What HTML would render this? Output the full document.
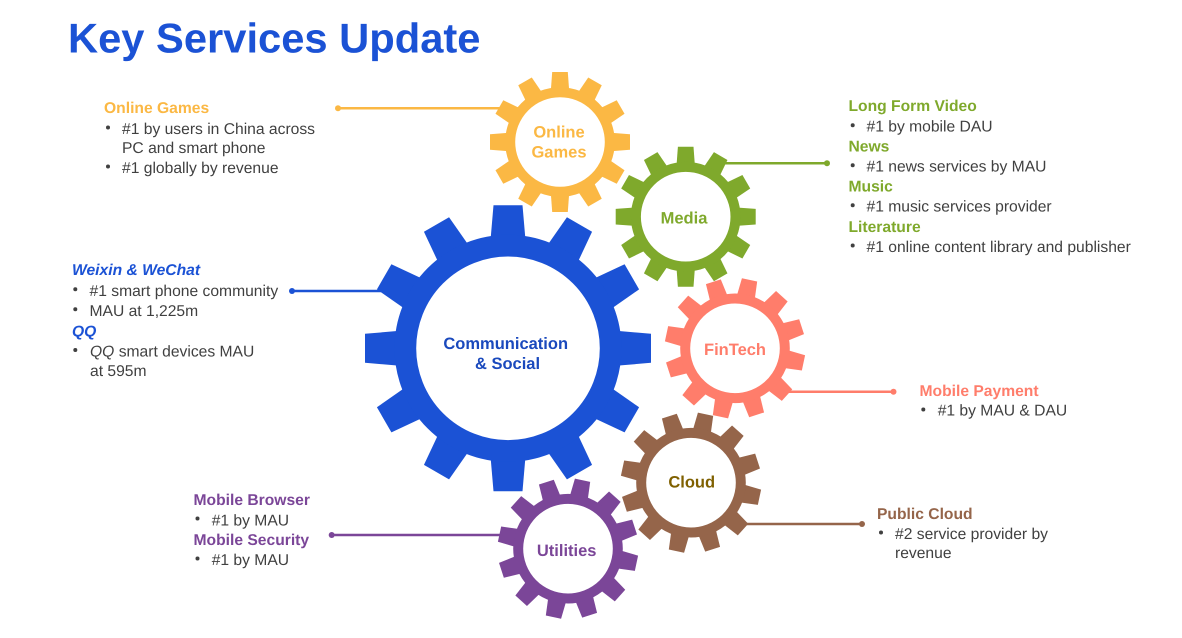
<!DOCTYPE html>
<html lang="en">
<head>
<meta charset="utf-8">
<title>Key Services Update</title>
<style>
html,body{margin:0;padding:0;background:#fff;width:1182px;height:638px;overflow:hidden}
svg{display:block}
text{font-family:"Liberation Sans",Arial,sans-serif;text-rendering:geometricPrecision}
.b{font-size:15.65px;fill:#404040}
.h{font-size:15.65px;font-weight:bold}
.g{font-size:16.5px;font-weight:bold;text-anchor:middle}
</style>
</head>
<body>
<svg width="1182" height="638" viewBox="0 0 1182 638" xmlns="http://www.w3.org/2000/svg">
<defs>
<path id="tl" d="M-17.5,-108 L-14.5,-143 L14.5,-143 L17.5,-108 Z"/>
<path id="ts" d="M-9.2,-51 L-7.8,-70 L7.8,-70 L9.2,-51 Z"/>
<g id="bigteeth">
<use href="#tl"/><use href="#tl" transform="rotate(30)"/><use href="#tl" transform="rotate(60)"/><use href="#tl" transform="rotate(90)"/><use href="#tl" transform="rotate(120)"/><use href="#tl" transform="rotate(150)"/><use href="#tl" transform="rotate(180)"/><use href="#tl" transform="rotate(210)"/><use href="#tl" transform="rotate(240)"/><use href="#tl" transform="rotate(270)"/><use href="#tl" transform="rotate(300)"/><use href="#tl" transform="rotate(330)"/>
</g>
<g id="smallteeth">
<use href="#ts"/><use href="#ts" transform="rotate(30)"/><use href="#ts" transform="rotate(60)"/><use href="#ts" transform="rotate(90)"/><use href="#ts" transform="rotate(120)"/><use href="#ts" transform="rotate(150)"/><use href="#ts" transform="rotate(180)"/><use href="#ts" transform="rotate(210)"/><use href="#ts" transform="rotate(240)"/><use href="#ts" transform="rotate(270)"/><use href="#ts" transform="rotate(300)"/><use href="#ts" transform="rotate(330)"/>
</g>
</defs>

<text x="68" y="52.5" font-size="41.7" font-weight="bold" fill="#1b52d5">Key Services Update</text>

<!-- connectors -->
<g stroke-width="2.5" fill="none">
<line x1="338" y1="108.3" x2="510" y2="108.3" stroke="#fbb844"/>
<line x1="292" y1="291" x2="385" y2="291" stroke="#1b52d5"/>
<line x1="720" y1="163.3" x2="827" y2="163.3" stroke="#7fa92c"/>
<line x1="780" y1="391.7" x2="893" y2="391.7" stroke="#ff7d6b"/>
<line x1="740" y1="524" x2="862" y2="524" stroke="#95654a"/>
<line x1="331" y1="535" x2="510" y2="535" stroke="#7b4698"/>
</g>
<circle cx="338" cy="108.3" r="3" fill="#fbb844"/>
<circle cx="292" cy="291" r="3" fill="#1b52d5"/>
<circle cx="827" cy="163.3" r="3" fill="#7fa92c"/>
<circle cx="893.5" cy="391.7" r="3" fill="#ff7d6b"/>
<circle cx="862" cy="524" r="3" fill="#95654a"/>
<circle cx="331.7" cy="535" r="3" fill="#7b4698"/>

<!-- gears -->
<g transform="translate(508,348.3)" fill="#1b52d5">
<use href="#bigteeth"/><circle r="102.65" fill="none" stroke="#1b52d5" stroke-width="21.7"/>
</g>
<g transform="translate(560,142)" fill="#fbb844">
<use href="#smallteeth"/><circle r="49.8" fill="none" stroke="#fbb844" stroke-width="10"/>
</g>
<g transform="translate(685.7,216.7)" fill="#7fa92c">
<use href="#smallteeth"/><circle r="49.8" fill="none" stroke="#7fa92c" stroke-width="10"/>
</g>
<g transform="translate(735,348.3) rotate(12)" fill="#ff7d6b">
<use href="#smallteeth"/><circle r="49.8" fill="none" stroke="#ff7d6b" stroke-width="10"/>
</g>
<g transform="translate(691,482.7) rotate(12)" fill="#95654a">
<use href="#smallteeth"/><circle r="49.8" fill="none" stroke="#95654a" stroke-width="10"/>
</g>
<g transform="translate(568,548.7) rotate(12)" fill="#7b4698">
<use href="#smallteeth"/><circle r="49.8" fill="none" stroke="#7b4698" stroke-width="10"/>
</g>

<!-- gear labels -->
<text class="g" x="505.7" y="349" fill="#1a49bd">Communication</text>
<text class="g" x="507.5" y="369" fill="#1a49bd">&amp; Social</text>
<text class="g" x="559" y="137.7" fill="#fbb844">Online</text>
<text class="g" x="559" y="157.7" fill="#fbb844">Games</text>
<text class="g" x="684" y="223.3" fill="#7fa92c">Media</text>
<text class="g" x="735" y="355" fill="#ff7d6b">FinTech</text>
<text class="g" x="691.7" y="487.7" fill="#7f6000">Cloud</text>
<text class="g" x="566.7" y="556" fill="#7b4698">Utilities</text>

<!-- Online Games -->
<text class="h" x="104" y="113" fill="#fbb844">Online Games</text>
<circle cx="108" cy="127.5" r="2" fill="#404040"/>
<text class="b" x="122" y="134">#1 by users in China across</text>
<text class="b" x="122" y="153">PC and smart phone</text>
<circle cx="108" cy="166.5" r="2" fill="#404040"/>
<text class="b" x="122" y="173">#1 globally by revenue</text>

<!-- Weixin -->
<text class="h" x="72" y="275" fill="#1b52d5" font-style="italic">Weixin &amp; WeChat</text>
<circle cx="75.3" cy="289.3" r="2" fill="#404040"/>
<text class="b" x="89.5" y="296">#1 smart phone community</text>
<circle cx="75.3" cy="309.3" r="2" fill="#404040"/>
<text class="b" x="89.5" y="316">MAU at 1,225m</text>
<text class="h" x="72" y="336.5" fill="#1b52d5" font-style="italic">QQ</text>
<circle cx="75.3" cy="350" r="2" fill="#404040"/>
<text class="b" x="90" y="356.5"><tspan font-style="italic">QQ</tspan> smart devices MAU</text>
<text class="b" x="90" y="376">at 595m</text>

<!-- Media -->
<text class="h" x="848.5" y="111" fill="#7fa92c">Long Form Video</text>
<circle cx="852.7" cy="125.3" r="2" fill="#404040"/>
<text class="b" x="866.5" y="131.5">#1 by mobile DAU</text>
<text class="h" x="848.5" y="151.5" fill="#7fa92c">News</text>
<circle cx="852.7" cy="165.3" r="2" fill="#404040"/>
<text class="b" x="866.5" y="171.5">#1 news services by MAU</text>
<text class="h" x="848.5" y="191.5" fill="#7fa92c">Music</text>
<circle cx="852.7" cy="205.3" r="2" fill="#404040"/>
<text class="b" x="866.5" y="211.7">#1 music services provider</text>
<text class="h" x="848.5" y="232" fill="#7fa92c">Literature</text>
<circle cx="852.7" cy="245.5" r="2" fill="#404040"/>
<text class="b" x="866.5" y="252">#1 online content library and publisher</text>

<!-- Mobile Payment -->
<text class="h" x="919.5" y="396" fill="#ff7d6b">Mobile Payment</text>
<circle cx="923.3" cy="409.5" r="2" fill="#404040"/>
<text class="b" x="937.7" y="415.7">#1 by MAU &amp; DAU</text>

<!-- Public Cloud -->
<text class="h" x="877" y="519" fill="#95654a">Public Cloud</text>
<circle cx="881" cy="532.5" r="2" fill="#404040"/>
<text class="b" x="895" y="539">#2 service provider by</text>
<text class="b" x="895" y="558">revenue</text>

<!-- Utilities -->
<text class="h" x="193.5" y="505" fill="#7b4698">Mobile Browser</text>
<circle cx="197.5" cy="518.5" r="2" fill="#404040"/>
<text class="b" x="211.7" y="525.5">#1 by MAU</text>
<text class="h" x="193.5" y="545" fill="#7b4698">Mobile Security</text>
<circle cx="197.5" cy="558.5" r="2" fill="#404040"/>
<text class="b" x="211.7" y="565">#1 by MAU</text>
</svg>
</body>
</html>
